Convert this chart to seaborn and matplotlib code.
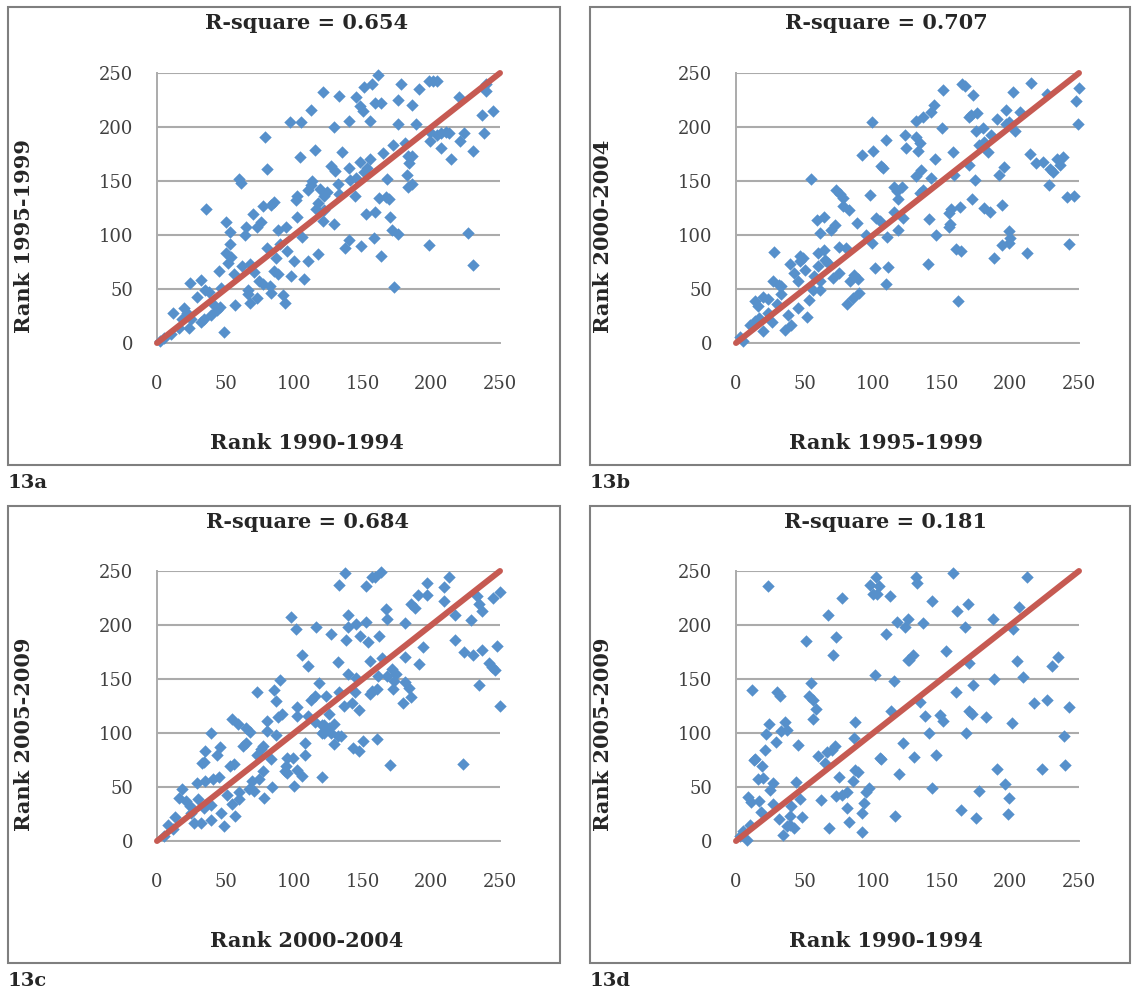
import numpy as np
import pandas as pd
import matplotlib.pyplot as plt
import seaborn as sns
from matplotlib.patches import Rectangle

# Dados (rank em cada período)
x_a = [121, 112, 97, 105, 79, 115, 104, 80, 60, 61, 127, 113, 112, 110, 119, 124, 102, 101, 85, 77,
       83, 36, 117, 116, 122, 70, 102, 50, 76, 121, 53, 65, 73, 64, 88, 94, 106, 53, 80, 90,
       50, 54, 95, 87, 117, 100, 110, 52, 62, 68, 45, 56, 71, 85, 88, 98, 107, 24, 32, 29,
       35, 38, 47, 74, 77, 82, 83, 66, 66, 73, 68, 57, 92, 93, 41, 44, 39, 20, 12, 22,
       18, 25, 32, 34, 23, 16, 49, 10, 5, 2, 46,
       161, 157, 151, 178, 133, 145, 191, 198, 201, 204, 159, 163, 176, 186, 148, 150, 140, 155, 129, 176,
       189, 220, 240, 240, 237, 245, 238, 199, 199, 204, 207, 211, 213, 207, 221, 224, 230, 214, 135, 165,
       172, 181, 130, 140, 148, 155, 153, 151, 183, 186, 184, 182, 132, 141, 145, 168, 183, 186, 122, 133,
       144, 162, 167, 169, 152, 159, 170, 129, 171, 176, 140, 137, 149, 158, 163, 198, 227, 230, 173]
y_a = [232, 216, 205, 205, 191, 179, 172, 161, 152, 148, 164, 150, 146, 142, 143, 140, 136, 132, 131, 127,
       128, 124, 130, 124, 123, 119, 117, 112, 112, 113, 103, 107, 107, 100, 105, 107, 98, 92, 88, 92,
       83, 80, 85, 79, 82, 76, 76, 74, 71, 73, 67, 64, 66, 67, 64, 62, 59, 56, 58, 43,
       49, 47, 51, 57, 55, 53, 46, 49, 45, 42, 37, 35, 44, 37, 36, 31, 26, 32, 28, 28,
       22, 22, 19, 22, 14, 14, 10, 8, 5, 2, 33,
       248, 240, 237, 240, 229, 228, 235, 243, 243, 243, 222, 222, 225, 220, 219, 215, 206, 206, 200, 203,
       203, 228, 240, 233, 211, 215, 194, 195, 187, 193, 194, 195, 194, 181, 187, 194, 178, 170, 177, 176,
       183, 185, 159, 162, 168, 170, 162, 158, 173, 173, 167, 156, 147, 151, 153, 152, 144, 147, 136, 138,
       136, 134, 135, 133, 119, 121, 117, 110, 105, 101, 95, 88, 90, 97, 81, 91, 102, 72, 52]

x_b = [99, 123, 124, 109, 100, 92, 106, 107, 55, 115, 121, 117, 98, 73, 76, 78, 78, 82, 118, 115,
       102, 105, 122, 59, 64, 88, 72, 69, 61, 95, 110, 118, 99, 28, 47, 49, 47, 39, 42, 60,
       64, 65, 67, 75, 80, 60, 50, 45, 75, 71, 57, 61, 83, 86, 89, 101, 111, 109, 27, 31,
       33, 56, 61, 53, 81, 85, 90, 14, 16, 20, 23, 33, 45, 10, 14, 17, 23, 26, 20, 38,
       40, 36, 52, 3, 5, 30,
       165, 167, 151, 173, 215, 202, 227, 250, 248, 249, 144, 142, 131, 136, 131, 134, 133, 150, 170, 171,
       176, 197, 190, 207, 175, 180, 186, 197, 199, 203, 177, 181, 184, 158, 145, 135, 142, 131, 170, 159,
       174, 195, 192, 214, 219, 224, 234, 238, 236, 229, 231, 228, 241, 246, 136, 134, 172, 163, 157, 155,
       181, 185, 194, 141, 156, 155, 146, 199, 200, 199, 160, 164, 194, 188, 212, 243, 140, 162]
y_b = [205, 193, 181, 188, 178, 174, 164, 162, 152, 144, 144, 141, 137, 142, 138, 134, 127, 123, 133, 121,
       116, 113, 116, 114, 117, 111, 109, 105, 102, 100, 98, 105, 93, 84, 81, 79, 76, 73, 65, 83,
       86, 77, 74, 89, 88, 71, 68, 57, 65, 60, 62, 57, 57, 63, 59, 69, 70, 55, 57, 54,
       53, 49, 49, 40, 36, 42, 46, 39, 34, 43, 41, 45, 32, 17, 20, 23, 28, 19, 11, 26,
       17, 12, 24, 6, 2, 36,
       240, 238, 234, 230, 241, 232, 231, 236, 224, 203, 220, 214, 206, 209, 191, 185, 178, 199, 209, 211,
       213, 216, 207, 214, 196, 199, 193, 203, 205, 196, 183, 186, 177, 177, 170, 160, 153, 155, 165, 156,
       151, 163, 156, 175, 167, 168, 170, 172, 165, 161, 158, 146, 135, 136, 142, 139, 133, 126, 124, 120,
       125, 121, 128, 115, 110, 107, 100, 104, 97, 93, 87, 85, 91, 79, 83, 92, 73, 39]

x_c = [98, 101, 116, 127, 106, 110, 90, 73, 85, 87, 118, 115, 112, 123, 102, 91, 88, 55, 59, 80,
       80, 87, 65, 68, 102, 110, 115, 122, 122, 39, 46, 44, 35, 34, 33, 65, 63, 77, 73, 76,
       53, 56, 83, 77, 95, 99, 94, 108, 108, 93, 95, 102, 106, 120, 100, 84, 69, 74, 67, 71,
       78, 35, 41, 45, 29, 60, 55, 60, 51, 57, 47, 49, 18, 16, 21, 24, 30, 34, 39, 25,
       27, 32, 39, 13, 8, 12, 5,
       137, 133, 152, 157, 159, 163, 167, 168, 139, 139, 145, 152, 138, 148, 154, 162, 181, 185, 188, 190,
       197, 197, 209, 213, 209, 217, 233, 235, 237, 245, 250, 229, 217, 224, 230, 237, 242, 244, 246, 248,
       235, 250, 132, 155, 164, 181, 191, 194, 139, 145, 161, 168, 171, 174, 173, 172, 181, 184, 185, 179,
       133, 144, 155, 157, 160, 136, 142, 147, 125, 120, 122, 125, 129, 120, 127, 132, 134, 129, 143, 147,
       150, 160, 170, 223]
y_c = [207, 196, 198, 192, 172, 162, 149, 138, 140, 130, 146, 134, 131, 134, 124, 118, 115, 113, 108, 111,
       102, 98, 105, 101, 116, 116, 110, 107, 100, 100, 87, 80, 83, 73, 72, 91, 88, 88, 80, 85,
       69, 71, 76, 65, 77, 77, 69, 80, 91, 65, 63, 66, 60, 59, 51, 50, 56, 57, 48, 46,
       40, 56, 57, 59, 54, 45, 34, 39, 43, 23, 26, 14, 48, 40, 37, 32, 39, 31, 33, 26,
       17, 17, 19, 22, 15, 11, 5,
       248, 237, 236, 244, 244, 249, 215, 206, 209, 198, 201, 203, 186, 190, 184, 190, 202, 219, 216, 228,
       228, 239, 235, 244, 222, 209, 227, 219, 213, 225, 231, 205, 186, 175, 172, 177, 165, 161, 158, 181,
       144, 125, 166, 167, 169, 170, 164, 180, 155, 151, 153, 153, 159, 155, 148, 141, 147, 142, 133, 128,
       138, 138, 136, 139, 141, 125, 128, 121, 118, 107, 102, 105, 108, 100, 100, 97, 97, 90, 86, 83,
       93, 94, 70, 71]

x_d = [23, 77, 67, 98, 102, 104, 100, 103, 112, 117, 123, 125, 109, 51, 73, 71, 125, 101, 115, 12,
       30, 32, 55, 53, 56, 58, 56, 113, 24, 22, 36, 33, 37, 29, 45, 87, 86, 122, 21, 66,
       70, 72, 60, 65, 13, 14, 19, 105, 106, 16, 20, 27, 25, 44, 47, 75, 85, 89, 87, 119,
       95, 97, 93, 73, 77, 81, 62, 9, 11, 17, 18, 27, 40, 39, 48, 31, 37, 42, 39, 34,
       68, 81, 82, 92, 92, 116, 10, 5, 8, 3,
       131, 132, 158, 212, 143, 161, 169, 136, 187, 167, 206, 202, 126, 129, 153, 170, 205, 230, 235, 188,
       209, 173, 160, 134, 217, 227, 243, 138, 149, 151, 170, 172, 182, 201, 141, 168, 239, 130, 146, 190,
       223, 240, 143, 177, 196, 199, 164, 175, 198]
y_d = [236, 225, 209, 237, 244, 236, 229, 229, 227, 203, 198, 206, 192, 185, 189, 172, 168, 154, 148, 140,
       138, 134, 146, 134, 131, 122, 113, 120, 108, 99, 110, 102, 103, 92, 89, 110, 95, 91, 84, 82,
       84, 88, 79, 72, 75, 76, 69, 77, 76, 57, 58, 54, 47, 55, 39, 59, 56, 64, 66, 62,
       45, 49, 35, 42, 43, 45, 38, 41, 36, 37, 27, 34, 32, 23, 22, 20, 14, 12, 15, 6,
       12, 31, 18, 26, 8, 23, 15, 9, 1, 5,
       244, 239, 248, 244, 222, 213, 219, 202, 206, 198, 217, 196, 168, 172, 176, 165, 167, 162, 170, 150,
       152, 144, 138, 129, 128, 131, 124, 116, 117, 111, 120, 118, 115, 109, 100, 100, 97, 78, 80, 67,
       67, 70, 49, 46, 53, 40, 29, 21, 25]

diag = [0, 250]
titulos = ["R-square = 0.654", "R-square = 0.707", "R-square = 0.684", "R-square = 0.181"]
rotulos_x = ["Rank 1990-1994", "Rank 1995-1999", "Rank 2000-2004", "Rank 1990-1994"]
rotulos_y = ["Rank 1995-1999", "Rank 2000-2004", "Rank 2005-2009", "Rank 2005-2009"]
paineis = ["13a", "13b", "13c", "13d"]

dados = [(x_a, y_a), (x_b, y_b), (x_c, y_c), (x_d, y_d)]

# posições em pixels: (esquerda do eixo, topo do eixo, caixa esq, caixa topo, caixa dir, caixa base)
posicoes = [(157, 73, 8, 7, 560, 465),
            (736, 73, 590, 7, 1130, 465),
            (157, 571, 8, 506, 560, 963),
            (736, 571, 590, 506, 1130, 963)]

sns.set_style("white")
plt.rcParams["font.family"] = ["DejaVu Serif"]

W, H = 1134, 990
fig = plt.figure(figsize=(W / 100, H / 100), dpi=100)
cinza = "#ABABAB"
azul = "#5690CB"
vermelho = "#C65A52"

for i in range(4):
    ax0, ay0, bx0, by0, bx1, by1 = posicoes[i]
    xs, ys = dados[i]
    df = pd.DataFrame({"x": xs, "y": ys})

    ax = fig.add_axes([ax0 / W, 1 - (ay0 + 270) / H, 343 / W, 270 / H])
    sns.scatterplot(data=df, x="x", y="y", marker="D", s=40, color=azul,
                    linewidth=0, ax=ax, zorder=3, clip_on=False)
    sns.lineplot(x=diag, y=diag, color=vermelho, linewidth=4.3, ax=ax, zorder=4)
    ax.lines[-1].set_solid_capstyle("round")
    ax.lines[-1].set_clip_on(False)

    ax.set_xlim(0, 250)
    ax.set_ylim(0, 250)
    ax.set_xticks(np.arange(0, 251, 50))
    ax.set_yticks(np.arange(0, 251, 50))
    for lado in ["top", "right"]:
        ax.spines[lado].set_visible(False)
    for lado in ["left", "bottom"]:
        ax.spines[lado].set_color(cinza)
        ax.spines[lado].set_linewidth(1.4)
    ax.tick_params(axis="x", direction="out", length=5, width=1.4, color=cinza,
                   pad=18, labelsize=13, labelcolor="#404040")
    ax.tick_params(axis="y", direction="out", length=5, width=1.4, color=cinza,
                   pad=12, labelsize=13, labelcolor="#404040")
    ax.set_axisbelow(True)
    ax.grid(True, axis="y", color=cinza, linewidth=1.5, linestyle="-")
    ax.grid(False, axis="x")
    ax.set_xlabel("")
    ax.set_ylabel("")

    cx = (ax0 + 150) / W
    fig.text(cx, 1 - (by0 + 16) / H, titulos[i], ha="center", va="center",
             fontsize=15, fontweight="bold")
    fig.text(cx, 1 - (ay0 + 270 + 100) / H, rotulos_x[i], ha="center", va="center",
             fontsize=15, fontweight="bold")
    fig.text((ax0 - 133) / W, 1 - (ay0 + 163) / H, rotulos_y[i], ha="center", va="center",
             rotation=90, fontsize=15, fontweight="bold")
    fig.text(bx0 / W, 1 - (by1 + 18) / H, paineis[i], ha="left", va="center",
             fontsize=14, fontweight="bold")

    fig.add_artist(Rectangle((bx0 / W, 1 - by1 / H), (bx1 - bx0) / W, (by1 - by0) / H,
                             transform=fig.transFigure, fill=False,
                             edgecolor="#7F7F7F", linewidth=1.5))

fig.savefig("out.png", dpi=100)
